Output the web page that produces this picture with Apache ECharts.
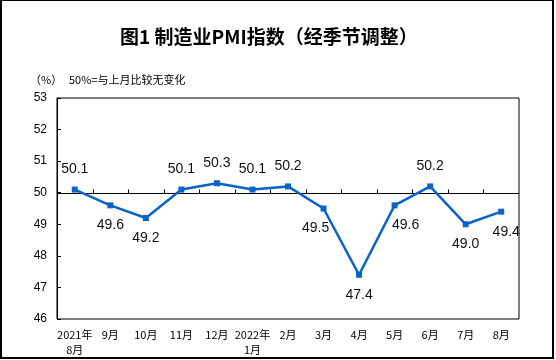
<!DOCTYPE html>
<html><head><meta charset="utf-8">
<script src="https://cdn.jsdelivr.net/npm/echarts@6/dist/echarts.min.js"></script>
<style>
html,body{margin:0;padding:0;background:#fff;}
#c{position:absolute;left:0;top:0;width:556px;height:360px;}
#frame{position:absolute;left:0;top:0;width:554px;height:359px;box-sizing:border-box;border:1px solid #000;border-left-width:2px;border-bottom-width:2px;border-right-width:2px;pointer-events:none;}
</style></head>
<body><div id="c"></div><div id="frame"></div>
<script>
const categories = ['2021年\n8月','9月','10月','11月','12月','2022年\n1月','2月','3月','4月','5月','6月','7月','8月'];
const pmiValues = [50.1,49.6,49.2,50.1,50.3,50.1,50.2,49.5,47.4,49.6,50.2,49.0,49.4];
const yTicks = {min:46, max:53, interval:1};
const baseline = 50;
const titleText = '图1 制造业PMI指数（经季节调整）';
const unitText = '（%）';
const noteText = '50%=与上月比较无变化';

// label placement (styling only)
const labelPlace = [
  ['top',0],['bottom',0],['bottom',0],['top',0],['top',0],['top',0],['top',0],
  ['bottom',-8],['bottom',0],['bottom',11],['top',0],['bottom',0],['bottom',5]
];

const gridTop = 98, gridBottom = 41;

const chart = echarts.init(document.getElementById('c'), null, {renderer:'canvas'});
const baseGraphics = [
  {type:'text', left:30, top:74, style:{text:unitText, font:'11px "Noto Sans CJK SC"', fill:'#000'}},
  {type:'text', left:69, top:74, style:{text:noteText, font:'11px "Noto Sans CJK SC"', fill:'#000'}}
];
chart.setOption({
  backgroundColor:'#fff',
  animation:false,
  title:{text:titleText, left:115, top:22, textStyle:{fontFamily:'Noto Sans CJK SC', fontSize:19, fontWeight:'bold', color:'#000'}},
  graphic:baseGraphics,
  grid:{left:57, right:37, top:gridTop, bottom:gridBottom, show:true, borderColor:'#000', borderWidth:1, backgroundColor:'transparent'},
  xAxis:{type:'category', data:categories, boundaryGap:true, position:'bottom',
     axisLine:{show:false}, axisTick:{show:false},
     axisLabel:{fontFamily:'Noto Sans CJK SC', fontSize:11, color:'#000', margin:8, lineHeight:15, interval:0}},
  yAxis:{type:'value', min:yTicks.min, max:yTicks.max, interval:yTicks.interval,
    axisLine:{show:true, lineStyle:{color:'#000'}},
    axisTick:{show:true, inside:true, length:4, lineStyle:{color:'#000'}},
    splitLine:{show:false},
    axisLabel:{fontFamily:'Liberation Sans', fontSize:12, color:'#000', margin:10}},
  series:[{
    type:'line', data:pmiValues.map((v,i)=>({value:v, label:{position:labelPlace[i][0], offset:[labelPlace[i][1],0]}})),
    symbol:'rect', symbolSize:6, showAllSymbol:true,
    lineStyle:{color:'#0a64c8', width:2.5},
    itemStyle:{color:'#0a64c8'},
    label:{show:true, distance:10, fontFamily:'Liberation Sans', fontSize:14, color:'#111', formatter:p=>p.value.toFixed(1)},
    z:5
  }]
});
// 50% baseline and its category-boundary ticks, positioned through the library's scales
const rect = chart.getModel().getComponent('grid').coordinateSystem.getRect();
const yBase = Math.round(chart.convertToPixel({yAxisIndex:0}, baseline)) + 0.5;
const extra = [{
  type:'line', z:3, silent:true,
  shape:{x1:rect.x, y1:yBase, x2:rect.x + rect.width, y2:yBase},
  style:{stroke:'#000', lineWidth:1}
}];
for (let i = 0; i < categories.length - 1; i++) {
  const xa = chart.convertToPixel({xAxisIndex:0}, i);
  const xb = chart.convertToPixel({xAxisIndex:0}, i + 1);
  const xm = Math.round((xa + xb) / 2) + 0.5;
  extra.push({type:'line', z:3, silent:true,
    shape:{x1:xm, y1:yBase, x2:xm, y2:yBase - 4},
    style:{stroke:'#000', lineWidth:1}});
}
chart.setOption({graphic: baseGraphics.concat(extra)});
</script></body></html>
